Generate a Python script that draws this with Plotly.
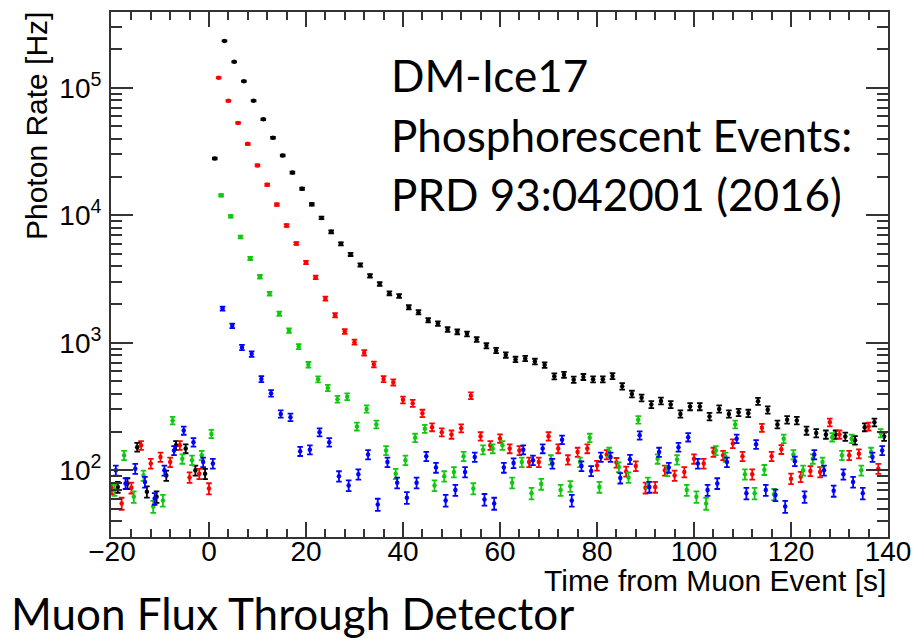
import numpy as np
import plotly.graph_objects as go

# ---------------- data ----------------
bin_width = 2.0
first_bin = {"black": -18.8, "red": -20.0, "green": -19.5, "blue": -19.2}

rate_black = [74, 79, 152, 68, 62, 91, 157, 148, 100, 94,
              27900, 233000, 159600, 112700, 79100, 56500, 40600, 29400, 21600, 16170,
              12190, 9530, 7410, 5970, 4930, 4070, 3355, 2890, 2445, 2330,
              1900, 1738, 1504, 1416, 1271, 1219, 1175, 1062, 948, 871,
              802, 741, 754, 714, 669, 546, 562, 514, 540, 517,
              517, 549, 456, 397, 370, 328, 350, 328, 277, 316,
              316, 264, 303, 277, 285, 280, 348, 298, 229, 249,
              246, 205, 196, 191, 191, 184, 172, 218, 238, 184]

rate_red = [72, 55, 73, 157, 113, 127, 116, 157, 88, 94, 72,
            119700, 79000, 53000, 36300, 24600, 17380, 12130, 8320, 6010, 4270,
            3260, 2220, 1645, 1225, 1012, 835, 677, 520, 490, 357, 336, 280, 218, 199,
            191, 214, 385, 185, 157, 178, 148, 143, 116, 116, 185, 148, 121, 139, 148,
            109, 133, 115, 98, 108, 73, 74, 100, 91, 97,
            123, 113, 139, 131, 162, 129, 93, 216, 129, 146,
            86, 89, 99, 97, 238, 191, 131, 135, 221, 103]

rate_green = [70, 131, 62, 91, 52, 58, 246, 123, 120, 131, 193,
              14330, 9820, 6760, 4590, 3296, 2427, 1693, 1247, 935, 673,
              517, 443, 361, 378, 221, 303, 229, 143, 94, 120, 180, 212, 76, 90,
              97, 129, 72, 145, 148, 157, 80, 116, 66, 78, 121, 70, 75, 116, 180,
              74, 139, 106, 88, 249, 80, 123, 99, 121, 70,
              62, 55, 143, 127, 229, 93, 66, 101, 65, 177,
              133, 100, 123, 116, 182, 131, 177, 100, 139, 196]

rate_blue = [100, 79, 103, 81, 60, 100, 143, 205, 166, 116, 113,
             1854, 1358, 919, 816, 520, 402, 277, 261, 141, 145,
             199, 166, 90, 76, 93, 133, 54, 116, 80, 61, 80, 129, 105, 58,
             70, 97, 127, 59, 55, 105, 114, 145, 120, 148, 113, 174, 58, 108, 99,
             127, 127, 87, 122, 188, 74, 139, 105, 152, 182,
             113, 70, 79, 116, 177, 66, 160, 70, 64, 52,
             118, 62, 133, 100, 69, 93, 81, 66, 127, 143]

# relative statistical uncertainty at 100 Hz (counting statistics)
rel_err_100hz = 0.09

x_tick_vals = [-20, 0, 20, 40, 60, 80, 100, 120, 140]
x_tick_text = ["\u221220", "0", "20", "40", "60", "80", "100", "120", "140"]
y_tick_vals = [1e2, 1e3, 1e4, 1e5]
y_tick_text = ["10<sup>2</sup>", "10<sup>3</sup>", "10<sup>4</sup>", "10<sup>5</sup>"]

colors = {"black": "#000000", "red": "#ff0000", "green": "#10c810", "blue": "#0000ff"}
series = {"black": rate_black, "red": rate_red, "green": rate_green, "blue": rate_blue}

fig = go.Figure()
for name in ["black", "red", "green", "blue"]:
    vals = np.array(series[name], dtype=float)
    t = first_bin[name] + bin_width * np.arange(len(vals))
    err = vals * rel_err_100hz * (100.0 / vals) ** 0.3
    fig.add_trace(go.Scatter(
        x=t, y=vals, mode="markers",
        marker=dict(color=colors[name], size=4.5),
        error_y=dict(type="data", array=err, visible=True, color=colors[name],
                     thickness=1.8, width=2.8),
        showlegend=False, hoverinfo="skip"))

axis_color = "#333333"
x_minor = [v for v in range(-16, 140, 4) if v % 20 != 0]
y_minor = [m * 10 ** e for e in range(1, 6) for m in range(2, 10)]
y_minor = [v for v in y_minor if 30 <= v <= 4e5]

fig.update_xaxes(
    range=[-20.2, 140], showline=True, linecolor=axis_color, linewidth=2,
    mirror="allticks", ticks="inside", ticklen=15, tickwidth=1.5, tickcolor=axis_color,
    tickvals=x_tick_vals, ticktext=x_tick_text, ticklabelstandoff=-12,
    tickfont=dict(family="Liberation Sans, Arial, sans-serif", size=28, color="black"),
    minor=dict(tickvals=x_minor, ticks="inside", ticklen=8, tickwidth=1.5, tickcolor=axis_color),
    showgrid=False, zeroline=False)

fig.update_yaxes(
    type="log", range=[np.log10(30), 5.594], showline=True, linecolor=axis_color, linewidth=2,
    mirror="allticks", ticks="inside", ticklen=22, tickwidth=1.5, tickcolor=axis_color,
    tickvals=y_tick_vals, ticktext=y_tick_text, ticklabelstandoff=2,
    tickfont=dict(family="Liberation Sans, Arial, sans-serif", size=28, color="black"),
    minor=dict(tickvals=y_minor, ticks="inside", ticklen=11, tickwidth=1.5, tickcolor=axis_color),
    showgrid=False, zeroline=False)

H = 527.0
W = 777.0
def px_x(px):
    return (px - 111) / W
def px_y(py):
    return (537 - py) / H

annots = [
    dict(text="DM-Ice17", x=px_x(389), y=px_y(73), xanchor="left", yanchor="middle",
         font=dict(family="Lato", size=44, color="black")),
    dict(text="Phosphorescent Events:", x=px_x(389), y=px_y(133), xanchor="left", yanchor="middle",
         font=dict(family="Lato", size=44, color="black")),
    dict(text="PRD 93:042001 (2016)", x=px_x(389), y=px_y(193), xanchor="left", yanchor="middle",
         font=dict(family="Lato", size=44, color="black")),
    dict(text="Muon Flux Through Detector", x=px_x(9), y=px_y(613), xanchor="left", yanchor="middle",
         font=dict(family="Lato", size=44, color="black")),
    dict(text="Time from Muon Event [s]", x=1.0, y=px_y(581), xanchor="right", yanchor="middle",
         font=dict(family="Liberation Sans, Arial, sans-serif", size=30, color="black")),
    dict(text="Photon Rate [Hz]", x=px_x(36), y=px_y(8), xanchor="center", yanchor="top",
         textangle=-90, font=dict(family="Liberation Sans, Arial, sans-serif", size=30, color="black")),
]
for a in annots:
    fig.add_annotation(xref="paper", yref="paper", showarrow=False, **a)

fig.update_layout(width=923, height=641, margin=dict(l=111, r=35, t=10, b=104),
                  plot_bgcolor="white", paper_bgcolor="white", showlegend=False)

fig.write_html("out.html", config={"displayModeBar": False},
               post_script="document.body.style.margin='0px';document.body.style.overflow='hidden';")
